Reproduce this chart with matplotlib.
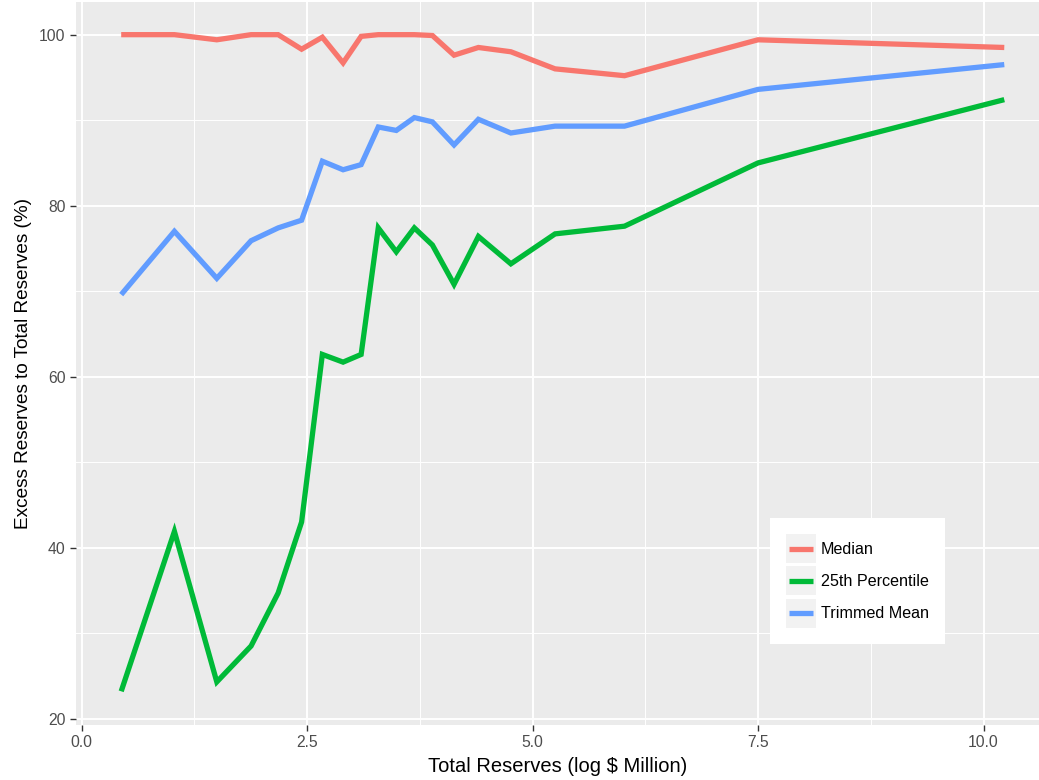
"""Excess reserves share vs. log total reserves, ggplot-like look."""
import matplotlib

matplotlib.use("Agg")
import matplotlib.pyplot as plt
from matplotlib.legend_handler import HandlerLine2D
from matplotlib.lines import Line2D
from matplotlib.patches import Rectangle
from matplotlib.ticker import MultipleLocator

plt.rcParams["font.family"] = ["Liberation Sans", "DejaVu Sans"]

# x positions (log $ million) shared by the three series
log_reserves = [0.44, 1.03, 1.50, 1.88, 2.18, 2.44, 2.67, 2.90, 3.10, 3.29,
                3.49, 3.69, 3.89, 4.13, 4.40, 4.76, 5.25, 6.02, 7.50, 10.23]
median = [100.0, 100.0, 99.4, 100.0, 100.0, 98.3, 99.7, 96.7, 99.8, 100.0,
          100.0, 100.0, 99.9, 97.6, 98.5, 98.0, 96.0, 95.2, 99.4, 98.5]
pct25 = [23.2, 41.9, 24.3, 28.5, 34.7, 43.0, 62.6, 61.7, 62.6, 77.4,
         74.6, 77.4, 75.4, 70.8, 76.4, 73.2, 76.7, 77.6, 85.0, 92.4]
trimmed = [69.6, 77.0, 71.5, 75.9, 77.4, 78.3, 85.2, 84.2, 84.8, 89.2,
           88.8, 90.3, 89.8, 87.1, 90.1, 88.5, 89.3, 89.3, 93.6, 96.5]

series = [("Median", median, "#F8766D"),
          ("25th Percentile", pct25, "#00BA38"),
          ("Trimmed Mean", trimmed, "#619CFF")]


class KeyHandler(HandlerLine2D):
    # grey key box behind the line, like ggplot legend keys
    def create_artists(self, legend, orig_handle, xdescent, ydescent,
                       width, height, fontsize, trans):
        box = Rectangle((-xdescent, -ydescent), width, height,
                        facecolor="#F2F2F2", edgecolor="none", transform=trans)
        y = -ydescent + height / 2
        pad = width * 0.1
        ln = Line2D([-xdescent + pad, -xdescent + width - pad], [y, y],
                    color=orig_handle.get_color(), lw=orig_handle.get_linewidth(),
                    solid_capstyle="butt", transform=trans)
        return [box, ln]


fig = plt.figure(figsize=(10.39, 7.8), dpi=100)
ax = fig.add_axes([76 / 1039, 55 / 780, 963 / 1039, 723 / 780])
ax.set_facecolor("#EBEBEB")

handles = []
for name, vals, col in series:
    h, = ax.plot(log_reserves, vals, color=col, lw=3.8, label=name,
                 solid_joinstyle="miter", solid_capstyle="butt")
    handles.append(h)

ax.set_xlim(-0.061, 10.615)
ax.set_ylim(19.26, 103.82)
ax.xaxis.set_major_locator(MultipleLocator(2.5))
ax.xaxis.set_minor_locator(MultipleLocator(1.25))
ax.yaxis.set_major_locator(MultipleLocator(20))
ax.yaxis.set_minor_locator(MultipleLocator(10))
ax.xaxis.set_major_formatter(matplotlib.ticker.FormatStrFormatter("%.1f"))
ax.grid(which="major", color="white", lw=1.4)
ax.grid(which="minor", color="white", lw=0.7)
ax.set_axisbelow(True)
for s in ax.spines.values():
    s.set_visible(False)
ax.tick_params(which="major", length=4.5, width=1.0, color="#333333",
               labelcolor="#4D4D4D", labelsize=11.3, pad=3)
ax.tick_params(which="minor", length=0)

ax.set_xlabel("Total Reserves (log $ Million)", fontsize=14.5, labelpad=5)
ax.set_ylabel("Excess Reserves to Total Reserves (%)", fontsize=13.7, labelpad=5)

leg = ax.legend(handles=handles, handler_map={Line2D: KeyHandler()},
                loc="upper left", bbox_to_anchor=(770 / 1039, 1 - 518 / 780),
                bbox_transform=fig.transFigure, fontsize=11.6, frameon=True,
                fancybox=False, edgecolor="none", facecolor="white",
                framealpha=1.0, handlelength=1.85, handleheight=2.4,
                labelspacing=0.2, handletextpad=0.3, borderpad=1.0,
                borderaxespad=0)

fig.savefig("out.png", dpi=100)
